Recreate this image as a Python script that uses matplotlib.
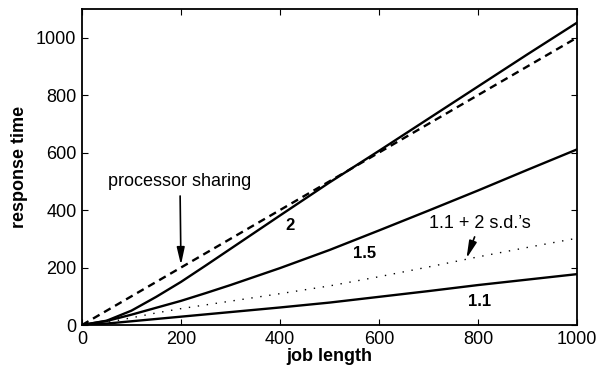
import matplotlib
matplotlib.use("Agg")
import matplotlib.pyplot as plt

plt.rcParams["font.family"] = ["Liberation Sans", "DejaVu Sans"]

# job length sample points
job = [0, 50, 100, 150, 200, 250, 300, 400, 500, 600, 700, 800, 900, 1000]

# response time curves
ps = [0, 50, 100, 150, 200, 250, 300, 400, 500, 600, 700, 800, 900, 1000]
alpha_2 = [0, 15, 50, 98, 150, 207, 265, 381, 496, 606, 718, 830, 942, 1052]
alpha_15 = [0, 14, 36, 60, 84, 111, 139, 198, 261, 329, 398, 468, 540, 611]
alpha_11_sd = [0, 9, 25, 42, 57, 70, 83, 109, 136, 168, 202, 237, 270, 302]
alpha_11 = [0, 5, 13, 21, 29, 37, 45, 61, 78, 98, 118, 139, 158, 177]

xticks = [0, 200, 400, 600, 800, 1000]
yticks = [0, 200, 400, 600, 800, 1000]

fig = plt.figure(figsize=(6.05, 3.74), dpi=100)
ax = fig.add_axes([0.1355, 0.131, 0.818, 0.845])

ax.plot(job, ps, color="k", lw=1.7, linestyle=(0, (3.2, 2.2)))
ax.plot(job, alpha_2, color="k", lw=1.7)
ax.plot(job, alpha_15, color="k", lw=1.7)
ax.plot(job, alpha_11_sd, color="k", lw=1.0, linestyle=(0, (1, 5.5)))
ax.plot(job, alpha_11, color="k", lw=1.7)

ax.set_xlim(0, 1000)
ax.set_ylim(0, 1100)
ax.set_xticks(xticks)
ax.set_yticks(yticks)
ax.tick_params(direction="in", length=4, width=0.8, labelsize=13, pad=4,
               top=True, right=True)
for s in ax.spines.values():
    s.set_linewidth(1.3)

ax.set_xlabel("job length", fontsize=13, fontweight="bold", labelpad=0)
ax.set_ylabel("response time", fontsize=13, fontweight="bold", labelpad=6)

# curve labels
ax.text(420, 348, "2", fontsize=12, fontweight="bold", ha="center", va="center")
ax.text(570, 250, "1.5", fontsize=12, fontweight="bold", ha="center", va="center")
ax.text(804, 81, "1.1", fontsize=12, fontweight="bold", ha="center", va="center")

arrow = dict(arrowstyle="-|>,head_length=0.8,head_width=0.18", color="k", lw=1.2,
             shrinkA=2, shrinkB=0)
ax.annotate("processor sharing", xy=(200, 209), xytext=(198, 498), fontsize=13,
            ha="center", va="center", arrowprops=arrow)
ax.annotate("1.1 + 2 s.d.\u2019s", xy=(777, 232), xytext=(804, 355), fontsize=13,
            ha="center", va="center", arrowprops=arrow)

fig.savefig("out.png", dpi=100)
